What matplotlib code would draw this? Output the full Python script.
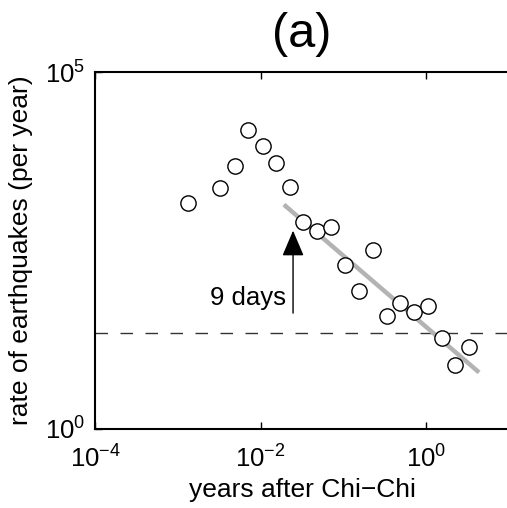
import matplotlib
matplotlib.use("Agg")
import matplotlib.pyplot as plt

plt.rcParams['font.family'] = ['Liberation Sans', 'DejaVu Sans']
plt.rcParams['mathtext.fontset'] = 'custom'
plt.rcParams['mathtext.rm'] = 'Liberation Sans'
plt.rcParams['mathtext.it'] = 'Liberation Sans'

# data
years = [0.00133, 0.00327, 0.00488, 0.00710, 0.01067, 0.01549, 0.02249,
         0.03258, 0.04864, 0.07047, 0.1042, 0.1528, 0.2259, 0.3342,
         0.4875, 0.7211, 1.0495, 1.549, 2.249, 3.296]
rates = [1459, 2404, 4831, 15170, 9226, 5272, 2449,
         789, 590, 665, 195, 86, 324, 38.6,
         58.9, 44, 52.2, 18.8, 8.0, 14.3]

# omori style fit (gray line)
fit_years = [0.0191, 4.35]
fit_rates = [1390, 6.2]

background_rate = 21.8

# arrow marking 9 days
arrow_year = 9 / 365.0
arrow_rates = [42, 600]

fig = plt.figure(figsize=(5.07, 5.08), dpi=100)
ax = fig.add_axes([95 / 507, (508 - 429) / 508, 414 / 507, 357 / 508])

ax.plot(years, rates, 'o', mfc='white', mec='black', ms=11, mew=1.0, zorder=3)
ax.plot(fit_years, fit_rates, color='#b3b3b3', lw=3.2, solid_capstyle='butt', zorder=2)
ax.axhline(background_rate, color='#333333', lw=1.0, dashes=(9, 9), zorder=1)

ax.annotate('', xy=(arrow_year, arrow_rates[1]), xytext=(arrow_year, arrow_rates[0]),
            arrowprops=dict(arrowstyle='-|>,head_length=0.8,head_width=0.34',
                            mutation_scale=20, color='black', lw=1.0,
                            shrinkA=0, shrinkB=0))
ax.text(0.0205, 68, '9 days', ha='right', va='center', fontsize=18.5)

ax.set_xscale('log')
ax.set_yscale('log')
ax.set_xlim(1e-4, 1e1)
ax.set_ylim(1e0, 1e5)
ax.set_xticks([1e-4, 1e-2, 1e0])
ax.set_xticklabels([r'$10^{-4}$', r'$10^{-2}$', r'$10^{0}$'])
ax.set_yticks([1e0, 1e5])
ax.set_yticklabels([r'$10^{0}$', r'$10^{5}$'])
ax.minorticks_off()
ax.tick_params(direction='in', length=5, width=1, labelsize=18.5, top=True, right=False)
ax.tick_params(axis='x', pad=12)
ax.tick_params(axis='y', pad=7)

for s in ['left', 'top', 'bottom']:
    ax.spines[s].set_linewidth(1.5)
ax.spines['right'].set_visible(False)

ax.set_xlabel('years after Chi\u2212Chi', fontsize=19, labelpad=4)
ax.set_ylabel('rate of earthquakes (per year)', fontsize=19, labelpad=9)
ax.set_title('(a)', fontsize=35, pad=18)

fig.savefig('out.png', dpi=100)
